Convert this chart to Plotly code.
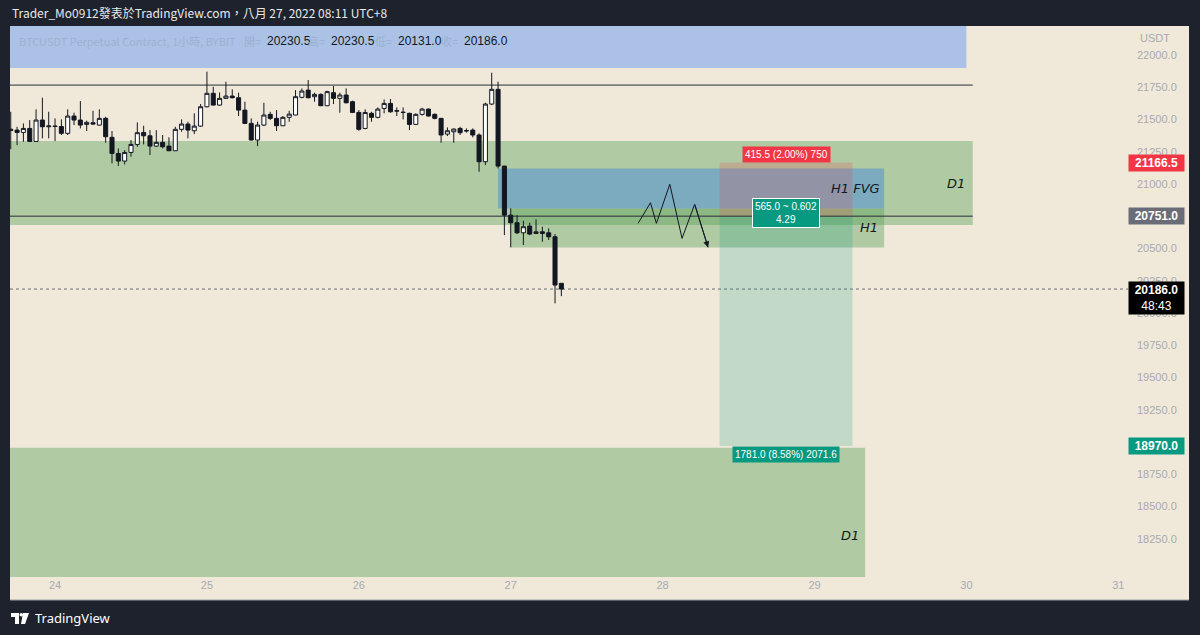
import plotly.graph_objects as go
import pandas as pd

# ---------------- data ----------------
start_time = "2022-08-23 17:00"
opens = [21425, 21418, 21400, 21431, 21330, 21496, 21444, 21450, 21446, 21393,
         21527, 21496, 21462, 21475, 21457, 21509, 21362, 21237, 21178, 21245,
         21307, 21400, 21374, 21294, 21323, 21294, 21258, 21424, 21465, 21413,
         21449, 21599, 21703, 21612, 21664, 21682, 21669, 21573, 21470, 21341,
         21457, 21540, 21509, 21452, 21517, 21535, 21672, 21728, 21677, 21695,
         21607, 21708, 21664, 21690, 21638, 21555, 21431, 21548, 21517, 21586,
         21625, 21565, 21557, 21548, 21462, 21540, 21581, 21540, 21509, 21387,
         21405, 21431, 21415, 21418, 21380, 21173, 21620, 21734, 21139, 20759,
         20700, 20622, 20674, 20617, 20630, 20622, 20591, 20230.5]
highs = [21560, 21444, 21470, 21496, 21579, 21669, 21560, 21509, 21501, 21579,
         21553, 21643, 21491, 21568, 21579, 21522, 21411, 21276, 21263, 21341,
         21478, 21452, 21418, 21418, 21380, 21362, 21444, 21501, 21483, 21548,
         21620, 21871, 21754, 21710, 21793, 21734, 21708, 21638, 21509, 21483,
         21630, 21560, 21573, 21527, 21568, 21728, 21741, 21806, 21708, 21703,
         21723, 21759, 21708, 21741, 21646, 21573, 21579, 21560, 21594, 21656,
         21659, 21594, 21594, 21553, 21548, 21591, 21586, 21548, 21511, 21439,
         21431, 21444, 21431, 21431, 21393, 21630, 21863, 21793, 21141, 20811,
         20759, 20716, 20700, 20726, 20669, 20656, 20612, 20230.5]
lows = [21270, 21302, 21328, 21328, 21328, 21354, 21354, 21333, 21380, 21380,
        21457, 21431, 21411, 21462, 21452, 21320, 21160, 21139, 21152, 21212,
        21289, 21307, 21225, 21289, 21276, 21256, 21256, 21405, 21354, 21387,
        21444, 21594, 21610, 21607, 21662, 21664, 21527, 21465, 21339, 21294,
        21449, 21496, 21411, 21449, 21483, 21533, 21664, 21664, 21638, 21604,
        21604, 21620, 21553, 21625, 21553, 21413, 21424, 21483, 21509, 21548,
        21553, 21527, 21501, 21418, 21460, 21530, 21525, 21501, 21320, 21372,
        21320, 21380, 21398, 21362, 21095, 21147, 21612, 21121, 20604, 20509,
        20612, 20527, 20604, 20612, 20553, 20566, 20075, 20131.0]
closes = [21415, 21400, 21431, 21330, 21496, 21444, 21450, 21446, 21393, 21527,
          21496, 21457, 21478, 21465, 21509, 21367, 21237, 21178, 21245, 21307,
          21398, 21374, 21294, 21323, 21289, 21258, 21424, 21465, 21418, 21449,
          21599, 21703, 21612, 21664, 21682, 21669, 21573, 21470, 21341, 21457,
          21535, 21509, 21452, 21517, 21542, 21677, 21721, 21669, 21695, 21607,
          21716, 21664, 21690, 21630, 21555, 21424, 21555, 21517, 21581, 21625,
          21560, 21568, 21555, 21462, 21540, 21581, 21527, 21509, 21380, 21413,
          21426, 21398, 21412, 21380, 21173, 21620, 21734, 21139, 20759, 20700,
          20622, 20669, 20612, 20630, 20617, 20591, 20217, 20186.0]
times = pd.date_range(start_time, periods=len(opens), freq="h")

x_range = ["2022-08-23 16:53", "2022-08-31 01:32"]
y_range = [17954, 22225]
# tick levels whose labels are not hidden behind the price badges
price_ticks = [18250, 18500, 18750, 19250, 19500, 19750, 20000, 20250,
               20500, 21000, 21250, 21500, 21750, 22000]
day_ticks = ["2022-08-%02d" % d for d in range(24, 32)]
day_labels = [str(d) for d in range(24, 32)]

# drawn zones: (start, end, low, high)
top_box = ("2022-08-20", "2022-08-30 00:00", 21900, 22500)
d1_upper = ("2022-08-20", "2022-08-30 01:00", 20682, 21333)
h1_box = ("2022-08-27 00:00", "2022-08-29 11:00", 20509, 20811)
h1_fvg = ("2022-08-26 22:00", "2022-08-29 11:00", 20811, 21121)
d1_lower = ("2022-08-20", "2022-08-29 08:00", 17600, 18955)
level_lines = [21767, 20751]
level_start = "2022-08-20"
level_end = "2022-08-30 01:00"
last_price = 20186.0
countdown = "48:43"

# short position tool
pos_start = "2022-08-28 09:00"
pos_end = "2022-08-29 06:00"
entry = 20751.0
stop = 21166.5
target = 18970.0
risk_label = "415.5 (2.00%) 750"
mid_label = "565.0 ~ 0.602<br>4.29"
reward_label = "1781.0 (8.58%) 2071.6"

# hand-drawn zigzag path
zig_times = ["2022-08-27 20:07", "2022-08-27 22:05", "2022-08-27 23:01", "2022-08-28 01:08",
             "2022-08-28 03:04", "2022-08-28 05:04", "2022-08-28 07:11"]
zig_prices = [20695, 20855, 20695, 20998, 20579, 20843, 20509]

legend_vals = ["20230.5", "20230.5", "20131.0", "20186.0"]
legend_keys = ["開=", "高=", "低=", "收="]

# ---------------- style ----------------
BEIGE = "#f0e9da"
DARK = "#1e222d"
AXIS_TXT = "#a7a9b0"
INK = "#131722"
FONT = "Liberation Sans"

L, R, T, B = 10, 72, 26, 58
W, H = 1200, 635
PW, PH = W - L - R, H - T - B


def px(xp):
    return (xp - L) / PW


def py(yp):
    return (H - B - yp) / PH


fig = go.Figure()
fig.add_trace(go.Candlestick(
    x=times, open=opens, high=highs, low=lows, close=closes,
    increasing=dict(line=dict(color=INK, width=1), fillcolor="#ffffff"),
    decreasing=dict(line=dict(color=INK, width=1), fillcolor=INK),
    whiskerwidth=0, hoverinfo="skip", showlegend=False,
))

fig.add_trace(go.Scatter(
    x=zig_times, y=zig_prices, mode="lines",
    line=dict(color=INK, width=1), hoverinfo="skip", showlegend=False,
))

shapes = []
shapes.append(dict(type="rect", xref="paper", yref="paper", x0=0, x1=px(1189),
                   y0=py(600), y1=1, fillcolor=BEIGE, line=dict(width=0), layer="below"))
shapes.append(dict(type="line", xref="paper", yref="paper", x0=0, x1=px(1189),
                   y0=py(600), y1=py(600), line=dict(color="#9a9ca3", width=1), layer="below"))


def zone(z, color):
    return dict(type="rect", xref="x", yref="y", x0=z[0], x1=z[1], y0=z[2], y1=z[3],
                fillcolor=color, line=dict(width=0), layer="below")


GREEN = "rgba(89,160,87,0.42)"
shapes.append(zone(top_box, "#abc2e6"))
shapes.append(zone(d1_upper, GREEN))
shapes.append(zone(h1_box, GREEN))
shapes.append(zone(h1_fvg, "rgba(90,150,210,0.6)"))
shapes.append(zone(d1_lower, GREEN))
shapes.append(zone((pos_start, pos_end, entry, stop), "rgba(242,54,69,0.2)"))
shapes.append(zone((pos_start, pos_end, target, entry), "rgba(8,153,129,0.2)"))
for lv in level_lines:
    shapes.append(dict(type="line", xref="x", yref="y", x0=level_start, x1=level_end,
                       y0=lv, y1=lv, line=dict(color="#2a2e39", width=1), layer="below"))
shapes.append(dict(type="line", xref="paper", yref="y", x0=0, x1=1, y0=last_price, y1=last_price,
                   line=dict(color="#6a6d78", width=1, dash="dot"), layer="below"))

# TradingView logo (decoration)
logo = [
    dict(type="rect", x0=px(11), x1=px(19), y0=py(617), y1=py(613)),
    dict(type="rect", x0=px(15), x1=px(19), y0=py(624), y1=py(613)),
    dict(type="circle", x0=px(19.5), x1=px(23), y0=py(616.5), y1=py(613)),
    dict(type="path", path="M %f %f L %f %f L %f %f L %f %f Z" % (
        px(23), py(613), px(29), py(613), px(25), py(624), px(21), py(624))),
]
for s in logo:
    s.update(xref="paper", yref="paper", fillcolor="#ffffff", line=dict(width=0), layer="above")
    shapes.append(s)

ann = []
ann.append(dict(xref="paper", yref="paper", x=px(10), y=py(13), xanchor="left", yanchor="middle",
                text="Trader_Mo0912發表於TradingView.com，八月 27, 2022 08:11 UTC+8",
                showarrow=False, font=dict(family="Noto Sans CJK TC", size=12, color="#e8e9ec")))
ann.append(dict(xref="paper", yref="paper", x=px(33), y=py(618), xanchor="left", yanchor="middle",
                text="TradingView", showarrow=False,
                font=dict(family="Noto Sans", size=13, color="#ffffff")))
ann.append(dict(xref="paper", yref="paper", x=px(17), y=py(41), xanchor="left", yanchor="middle",
                text="BTCUSDT Perpetual Contract, 1小時, BYBIT", showarrow=False,
                font=dict(family="Noto Sans CJK TC", size=11, color="#9db0d2")))
for i, (k, v) in enumerate(zip(legend_keys, legend_vals)):
    xv = [265, 329, 396, 462][i]
    ann.append(dict(xref="paper", yref="paper", x=px(xv - 2), y=py(41), xanchor="right",
                    yanchor="middle", text=k, showarrow=False,
                    font=dict(family="Noto Sans CJK TC", size=11, color="#9db0d2")))
    ann.append(dict(xref="paper", yref="paper", x=px(xv), y=py(41), xanchor="left",
                    yanchor="middle", text=v, showarrow=False,
                    font=dict(family=FONT, size=12, color=INK)))
ann.append(dict(xref="paper", yref="paper", x=px(1138), y=py(38), xanchor="left", yanchor="middle",
                text="USDT", showarrow=False, font=dict(family=FONT, size=11, color=AXIS_TXT)))

for val, col in [(stop, "#f23645"), (entry, "#6a6d78"), (target, "#089981")]:
    ann.append(dict(xref="paper", yref="y", x=1.0, y=val, xanchor="left", yanchor="middle",
                    text="<b>%.1f</b>" % val, showarrow=False, bgcolor=col, width=53,
                    borderpad=1, font=dict(family=FONT, size=12, color="#ffffff")))
ann.append(dict(xref="paper", yref="y", x=1.0, y=last_price, xanchor="left", yanchor="top",
                yshift=8, text="<b>%.1f</b><br>%s" % (last_price, countdown), showarrow=False,
                bgcolor="#000000", width=53, borderpad=1,
                font=dict(family=FONT, size=12, color="#ffffff")))

t0, t1 = pd.Timestamp(pos_start), pd.Timestamp(pos_end)
pos_mid = t0 + (t1 - t0) / 2
ann.append(dict(x=pos_mid, y=stop, xanchor="center", yanchor="bottom", text=risk_label,
                showarrow=False, bgcolor="#f23645", borderpad=2,
                font=dict(family=FONT, size=10, color="#ffffff")))
ann.append(dict(x=pos_mid, y=entry, xanchor="center", yanchor="middle", yshift=3, text=mid_label,
                showarrow=False, bgcolor="#089981", bordercolor="#ffffff", borderwidth=1,
                borderpad=2, font=dict(family=FONT, size=10, color="#ffffff")))
ann.append(dict(x=pos_mid, y=target, xanchor="center", yanchor="top", text=reward_label,
                showarrow=False, bgcolor="#089981", borderpad=2,
                font=dict(family=FONT, size=10, color="#ffffff")))

lab_font = dict(family="DejaVu Sans", size=13, color=INK)
ann.append(dict(x=d1_upper[1], y=(d1_upper[2] + d1_upper[3]) / 2, xanchor="right", yanchor="middle",
                xshift=-6, text="<i>D1</i>", showarrow=False, font=lab_font))
ann.append(dict(x=h1_fvg[1], y=(h1_fvg[2] + h1_fvg[3]) / 2, xanchor="right", yanchor="middle",
                xshift=-2, text="<i>H1 FVG</i>", showarrow=False, font=lab_font))
ann.append(dict(x=h1_box[1], y=(h1_box[2] + h1_box[3]) / 2, xanchor="right", yanchor="middle",
                xshift=-4, text="<i>H1</i>", showarrow=False, font=lab_font))
ann.append(dict(x=d1_lower[1], y=(d1_lower[2] + d1_lower[3]) / 2, xanchor="right", yanchor="middle",
                xshift=-4, text="<i>D1</i>", showarrow=False, font=lab_font))

ann.append(dict(x=zig_times[-1], y=zig_prices[-1], ax=zig_times[-2], ay=zig_prices[-2],
                axref="x", ayref="y", xref="x", yref="y", text="", showarrow=True,
                arrowhead=2, arrowsize=1.2, arrowwidth=1, arrowcolor=INK))

fig.update_layout(
    width=W, height=H, margin=dict(l=L, r=R, t=T, b=B),
    paper_bgcolor=DARK, plot_bgcolor=BEIGE,
    shapes=shapes, annotations=ann, showlegend=False,
    boxgap=0.15, boxgroupgap=0.25,
    xaxis=dict(type="date", range=x_range, rangeslider=dict(visible=False),
               tickvals=day_ticks, ticktext=day_labels, showgrid=False, zeroline=False,
               showline=False, ticks="", tickfont=dict(family=FONT, size=11, color=AXIS_TXT)),
    yaxis=dict(range=y_range, side="right", tickvals=price_ticks,
               ticktext=["%.1f" % v for v in price_ticks], showgrid=False, zeroline=False,
               showline=False, ticks="", ticklabelstandoff=8,
               tickfont=dict(family=FONT, size=11, color=AXIS_TXT)),
    hovermode=False,
)

fig.write_html("out.html")
